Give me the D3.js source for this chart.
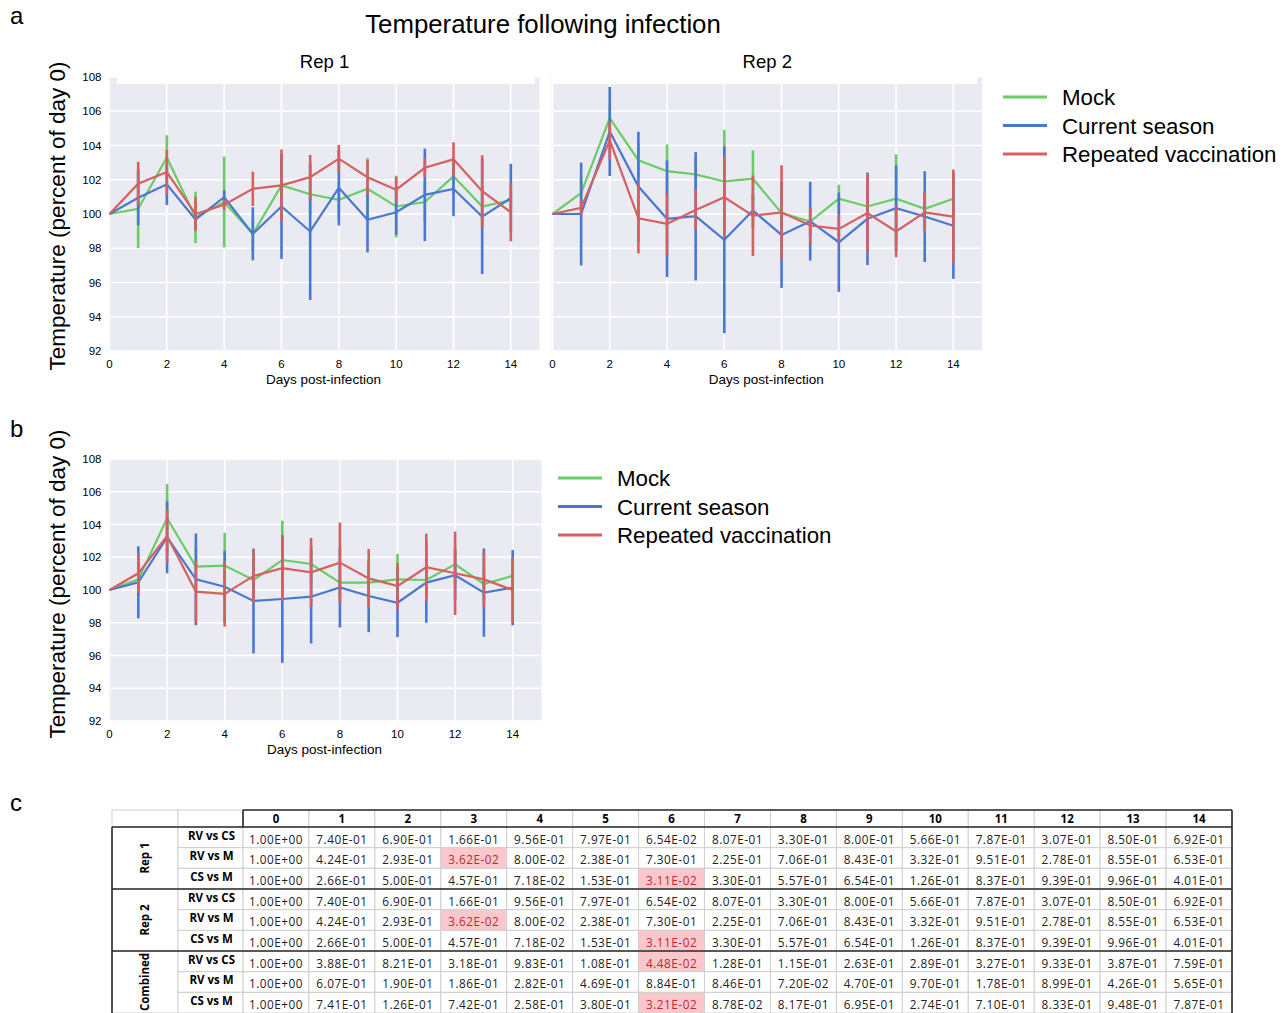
<!DOCTYPE html>
<html>
<head>
<meta charset="utf-8">
<script src="https://cdn.jsdelivr.net/npm/d3@7"></script>
<style>
  body { margin: 0; background: #fff; }
  svg text { font-family: "Liberation Sans", Arial, sans-serif; }
  .tbl text { font-family: "Open Sans", sans-serif; }
</style>
</head>
<body>
<div class="svg-container"></div>
<script>
const days = [0, 1, 2, 3, 4, 5, 6, 7, 8, 9, 10, 11, 12, 13, 14];
const seriesNames = ['Mock', 'Current season', 'Repeated vaccination'];
const colors = ['#6acc64', '#4878d0', '#d65f5f'];
const yTicks = [92, 94, 96, 98, 100, 102, 104, 106, 108];
const xTicks = [0, 2, 4, 6, 8, 10, 12, 14];

// Rep 1
const rep1Mock = [100, 100.3, 103.3, 99.8, 100.7, 98.84, 101.67, 101.15, 100.83, 101.47, 100.44, 100.7, 102.2, 100.44, 100.8];
const rep1MockErr = [0, 2.3, 1.3, 1.5, 2.65, 1.0, 1.5, 1.2, 1.0, 1.8, 1.8, 1.2, 1.0, 1.2, 0.5];
const rep1CS = [100, 100.95, 101.73, 99.68, 100.98, 98.84, 100.44, 98.98, 101.53, 99.66, 100.1, 101.12, 101.47, 99.85, 100.93];
const rep1CSErr = [0, 1.6, 1.2, 0.5, 0.4, 1.55, 3.06, 4.0, 2.2, 1.9, 1.3, 2.7, 1.6, 3.35, 2.0];
const rep1RV = [100, 101.77, 102.45, 100.0, 100.54, 101.47, 101.67, 102.15, 103.23, 102.15, 101.42, 102.7, 103.19, 101.33, 100.1];
const rep1RVErr = [0, 1.27, 1.3, 1.0, 0.3, 1.0, 2.1, 1.3, 0.8, 1.0, 0.75, 0.55, 1.0, 2.1, 1.7];

// Rep 2
const rep2Mock = [100, 101.22, 105.6, 103.13, 102.5, 102.31, 101.9, 102.06, 100.05, 99.56, 100.89, 100.44, 100.89, 100.3, 100.89];
const rep2MockErr = [0, 1.0, 0.8, 1.0, 1.56, 1.0, 3.0, 1.65, 1.0, 0.8, 0.82, 1.0, 2.6, 1.0, 1.0];
const rep2CS = [100, 100.0, 104.82, 101.6, 99.72, 99.87, 98.49, 100.2, 98.78, 99.58, 98.35, 99.72, 100.34, 99.85, 99.31];
const rep2CSErr = [0, 3.0, 2.6, 3.2, 3.4, 3.75, 5.45, 1.0, 3.1, 2.3, 2.9, 2.7, 2.5, 2.65, 3.1];
const rep2RV = [100, 100.36, 104.3, 99.75, 99.43, 100.24, 100.98, 99.9, 100.1, 99.33, 99.13, 100.05, 98.98, 100.1, 99.85];
const rep2RVErr = [0, 0.4, 1.1, 2.05, 1.8, 1.15, 2.35, 2.35, 2.75, 1.05, 0.8, 2.3, 1.5, 1.15, 2.75];

// Combined
const combMock = [100, 100.65, 104.38, 101.43, 101.49, 100.61, 101.83, 101.59, 100.45, 100.45, 100.65, 100.61, 101.57, 100.37, 100.86];
const combMockErr = [0, 1.0, 2.1, 1.2, 2.0, 1.0, 2.4, 1.2, 1.0, 1.0, 1.55, 1.0, 1.2, 1.0, 1.0];
const combCS = [100, 100.47, 103.22, 100.65, 100.2, 99.33, 99.45, 99.59, 100.16, 99.63, 99.22, 100.45, 100.9, 99.84, 100.14];
const combCSErr = [0, 2.2, 2.2, 2.8, 2.2, 3.2, 3.9, 2.85, 2.45, 2.2, 2.1, 2.45, 1.5, 2.7, 2.3];
const combRV = [100, 101.02, 103.3, 99.9, 99.76, 100.86, 101.33, 101.08, 101.67, 100.71, 100.24, 101.39, 101.02, 100.65, 100.0];
const combRVErr = [0, 1.2, 1.6, 1.9, 2.0, 1.6, 2.0, 2.1, 2.45, 1.8, 1.4, 2.05, 2.55, 1.7, 2.0];

// p-value table
const tableGroups = ['Rep 1', 'Rep 2', 'Combined'];
const comparisons = ['RV vs CS', 'RV vs M', 'CS vs M'];
const pRep1 = [
  ['1.00E+00','7.40E-01','6.90E-01','1.66E-01','9.56E-01','7.97E-01','6.54E-02','8.07E-01','3.30E-01','8.00E-01','5.66E-01','7.87E-01','3.07E-01','8.50E-01','6.92E-01'],
  ['1.00E+00','4.24E-01','2.93E-01','3.62E-02','8.00E-02','2.38E-01','7.30E-01','2.25E-01','7.06E-01','8.43E-01','3.32E-01','9.51E-01','2.78E-01','8.55E-01','6.53E-01'],
  ['1.00E+00','2.66E-01','5.00E-01','4.57E-01','7.18E-02','1.53E-01','3.11E-02','3.30E-01','5.57E-01','6.54E-01','1.26E-01','8.37E-01','9.39E-01','9.96E-01','4.01E-01']
];
const pRep2 = [
  ['1.00E+00','7.40E-01','6.90E-01','1.66E-01','9.56E-01','7.97E-01','6.54E-02','8.07E-01','3.30E-01','8.00E-01','5.66E-01','7.87E-01','3.07E-01','8.50E-01','6.92E-01'],
  ['1.00E+00','4.24E-01','2.93E-01','3.62E-02','8.00E-02','2.38E-01','7.30E-01','2.25E-01','7.06E-01','8.43E-01','3.32E-01','9.51E-01','2.78E-01','8.55E-01','6.53E-01'],
  ['1.00E+00','2.66E-01','5.00E-01','4.57E-01','7.18E-02','1.53E-01','3.11E-02','3.30E-01','5.57E-01','6.54E-01','1.26E-01','8.37E-01','9.39E-01','9.96E-01','4.01E-01']
];
const pComb = [
  ['1.00E+00','3.88E-01','8.21E-01','3.18E-01','9.83E-01','1.08E-01','4.48E-02','1.28E-01','1.15E-01','2.63E-01','2.89E-01','3.27E-01','9.33E-01','3.87E-01','7.59E-01'],
  ['1.00E+00','6.07E-01','1.90E-01','1.86E-01','2.82E-01','4.69E-01','8.84E-01','8.46E-01','7.20E-02','4.70E-01','9.70E-01','1.78E-01','8.99E-01','4.26E-01','5.65E-01'],
  ['1.00E+00','7.41E-01','1.26E-01','7.42E-01','2.58E-01','3.80E-01','3.21E-02','8.78E-02','8.17E-01','6.95E-01','2.74E-01','7.10E-01','8.33E-01','9.48E-01','7.87E-01']
];

const outerWidth = 1286;
const outerHeight = 1013;

const svg = d3.select('.svg-container')
  .append('svg')
  .attr('width', outerWidth)
  .attr('height', outerHeight);

function drawPanel(opt) {
  const x = d3.scaleLinear().domain([0, 15]).range([opt.left, opt.right]);
  const y = d3.scaleLinear().domain([92, 108]).range([opt.bottom, opt.top]);
  const g = svg.append('g');

  g.append('rect')
    .attr('x', opt.left - 1).attr('y', opt.top)
    .attr('width', opt.right - opt.left + 1).attr('height', opt.bottom - opt.top)
    .attr('fill', '#eaeaf2');

  g.selectAll('.hgrid').data(yTicks).enter().append('line')
    .attr('x1', opt.left - 1).attr('x2', opt.right)
    .attr('y1', d => y(d)).attr('y2', d => y(d))
    .attr('stroke', '#fff').attr('stroke-width', 1.5);
  g.selectAll('.vgrid').data(xTicks).enter().append('line')
    .attr('x1', d => x(d)).attr('x2', d => x(d))
    .attr('y1', opt.top).attr('y2', opt.bottom)
    .attr('stroke', '#fff').attr('stroke-width', 1.5);

  if (opt.box) {
    g.append('rect')
      .attr('x', opt.box[0]).attr('y', opt.top - 2)
      .attr('width', opt.box[1] - opt.box[0]).attr('height', opt.box[2] - opt.top + 2)
      .attr('fill', '#fff');
  }

  g.selectAll('.xt').data(xTicks).enter().append('text')
    .attr('x', d => x(d)).attr('y', opt.bottom + 17)
    .attr('text-anchor', 'middle').style('font-size', '11.5px')
    .text(d => d);

  if (opt.yLabels) {
    g.selectAll('.yt').data(yTicks).enter().append('text')
      .attr('x', opt.left - 8).attr('y', d => y(d) + 4)
      .attr('text-anchor', 'end').style('font-size', '11.5px')
      .text(d => d);
  }

  g.append('text')
    .attr('x', (opt.left + opt.right) / 2 - 1).attr('y', opt.bottom + 33)
    .attr('text-anchor', 'middle').style('font-size', '13.5px')
    .text('Days post-infection');

  if (opt.title) {
    g.append('text')
      .attr('x', (opt.left + opt.right) / 2).attr('y', opt.top - 9)
      .attr('text-anchor', 'middle').style('font-size', '18.5px')
      .text(opt.title);
  }

  const line = d3.line().x((d, i) => x(days[i])).y(d => y(d));

  opt.series.forEach((s, k) => {
    g.selectAll('.err' + k).data(s.mean).enter().append('line')
      .attr('x1', (d, i) => x(days[i])).attr('x2', (d, i) => x(days[i]))
      .attr('y1', (d, i) => y(d - s.err[i])).attr('y2', (d, i) => y(d + s.err[i]))
      .attr('stroke', colors[k]).attr('stroke-width', 2.6);
    g.append('path')
      .datum(s.mean)
      .attr('d', line)
      .attr('fill', 'none')
      .attr('stroke', colors[k])
      .attr('stroke-width', 2.2);
  });
}

function drawLegend(x0, y0) {
  const lg = svg.append('g').attr('transform', `translate(${x0}, ${y0})`);
  seriesNames.forEach((name, k) => {
    lg.append('line')
      .attr('x1', 0).attr('x2', 44)
      .attr('y1', k * 28.5).attr('y2', k * 28.5)
      .attr('stroke', colors[k]).attr('stroke-width', 3);
    lg.append('text')
      .attr('x', 59).attr('y', k * 28.5 + 8)
      .style('font-size', '22.3px')
      .text(name);
  });
}

function yLabel(cy) {
  svg.append('text')
    .attr('transform', `translate(65, ${cy}) rotate(-90)`)
    .attr('text-anchor', 'middle')
    .style('font-size', '22.5px')
    .text('Temperature (percent of day 0)');
}

// panel letters and title
svg.append('text').attr('x', 10).attr('y', 24).style('font-size', '24px').text('a');
svg.append('text').attr('x', 10).attr('y', 437).style('font-size', '24px').text('b');
svg.append('text').attr('x', 10).attr('y', 811).style('font-size', '24px').text('c');
svg.append('text').attr('x', 543).attr('y', 33).attr('text-anchor', 'middle')
  .style('font-size', '25.8px').text('Temperature following infection');

yLabel(216);
yLabel(584);

drawPanel({
  left: 109.5, right: 539.5, top: 77, bottom: 351,
  yLabels: true, title: 'Rep 1', box: [117, 535, 84],
  series: [
    { mean: rep1Mock, err: rep1MockErr },
    { mean: rep1CS, err: rep1CSErr },
    { mean: rep1RV, err: rep1RVErr }
  ]
});
drawPanel({
  left: 552.5, right: 982, top: 77, bottom: 351,
  yLabels: false, title: 'Rep 2', box: [552, 977, 84],
  series: [
    { mean: rep2Mock, err: rep2MockErr },
    { mean: rep2CS, err: rep2CSErr },
    { mean: rep2RV, err: rep2RVErr }
  ]
});
drawPanel({
  left: 109.5, right: 541.5, top: 459, bottom: 721,
  yLabels: true,
  series: [
    { mean: combMock, err: combMockErr },
    { mean: combCS, err: combCSErr },
    { mean: combRV, err: combRVErr }
  ]
});

drawLegend(1003, 97);
drawLegend(558, 478);

// table
const tbl = svg.append('g').attr('class', 'tbl');
const tLeft = 112, tGroup = 178, tLabel = 243, tRight = 1232;
const tTop = 810, tHead = 827, rowH = 20.67;
const colX = d3.scaleBand().domain(days).range([tLabel, tRight]);
const allRows = [pRep1, pRep2, pComb];
const thin = '#cfcfcf';
const thick = '#2b2b2b';

// header cells
tbl.append('rect').attr('x', tLeft).attr('y', tTop).attr('width', tGroup - tLeft).attr('height', tHead - tTop)
  .attr('fill', '#fff').attr('stroke', thin);
tbl.append('rect').attr('x', tGroup).attr('y', tTop).attr('width', tLabel - tGroup).attr('height', tHead - tTop)
  .attr('fill', '#fff').attr('stroke', thin);
tbl.selectAll('.hd').data(days).enter().append('rect')
  .attr('x', d => colX(d)).attr('y', tTop)
  .attr('width', colX.bandwidth()).attr('height', tHead - tTop)
  .attr('fill', '#fff').attr('stroke', thin);
tbl.selectAll('.hdt').data(days).enter().append('text')
  .attr('x', d => colX(d) + colX.bandwidth() / 2).attr('y', tHead - 4)
  .attr('text-anchor', 'middle').style('font-size', '11.5px').style('font-weight', 'bold')
  .text(d => d);

allRows.forEach((grp, gi) => {
  const gTop = tHead + gi * 3 * rowH;
  tbl.append('rect').attr('x', tLeft).attr('y', gTop).attr('width', tGroup - tLeft).attr('height', 3 * rowH)
    .attr('fill', '#fff').attr('stroke', thin);
  tbl.append('text')
    .attr('transform', `translate(${(tLeft + tGroup) / 2 + 4}, ${gTop + 1.5 * rowH}) rotate(-90)`)
    .attr('text-anchor', 'middle').style('font-size', '11.5px').style('font-weight', 'bold')
    .text(tableGroups[gi]);
  grp.forEach((row, ri) => {
    const rTop = gTop + ri * rowH;
    tbl.append('rect').attr('x', tGroup).attr('y', rTop).attr('width', tLabel - tGroup).attr('height', rowH)
      .attr('fill', '#fff').attr('stroke', thin);
    tbl.append('text')
      .attr('x', (tGroup + tLabel) / 2 + 1).attr('y', rTop + 12.5)
      .attr('text-anchor', 'middle').style('font-size', '11.5px').style('font-weight', 'bold')
      .text(comparisons[ri]);
    const cells = tbl.append('g');
    cells.selectAll('rect').data(row).enter().append('rect')
      .attr('x', (d, i) => colX(days[i])).attr('y', rTop)
      .attr('width', colX.bandwidth()).attr('height', rowH)
      .attr('fill', d => +d < 0.05 ? '#fac8cc' : '#fff')
      .attr('stroke', thin);
    cells.selectAll('text').data(row).enter().append('text')
      .attr('x', (d, i) => colX(days[i]) + colX.bandwidth() / 2).attr('y', rTop + 16.5)
      .attr('text-anchor', 'middle').style('font-size', '11.8px')
      .style('letter-spacing', '0.5px')
      .attr('fill', d => +d < 0.05 ? '#c0282e' : '#222')
      .text(d => d);
  });
});

// thick borders
const thickLines = [
  [tLabel, tTop, tRight, tTop],
  [tLabel, tTop, tLabel, tHead],
  [tLeft, tHead, tRight, tHead],
  [tLeft, tHead, tLeft, outerHeight],
  [tRight, tTop, tRight, outerHeight],
  [tLeft, tHead + 3 * rowH, tRight, tHead + 3 * rowH],
  [tLeft, tHead + 6 * rowH, tRight, tHead + 6 * rowH]
];
tbl.selectAll('.thick').data(thickLines).enter().append('line')
  .attr('x1', d => d[0]).attr('y1', d => d[1]).attr('x2', d => d[2]).attr('y2', d => d[3])
  .attr('stroke', thick).attr('stroke-width', 1.6);
</script>
</body>
</html>
